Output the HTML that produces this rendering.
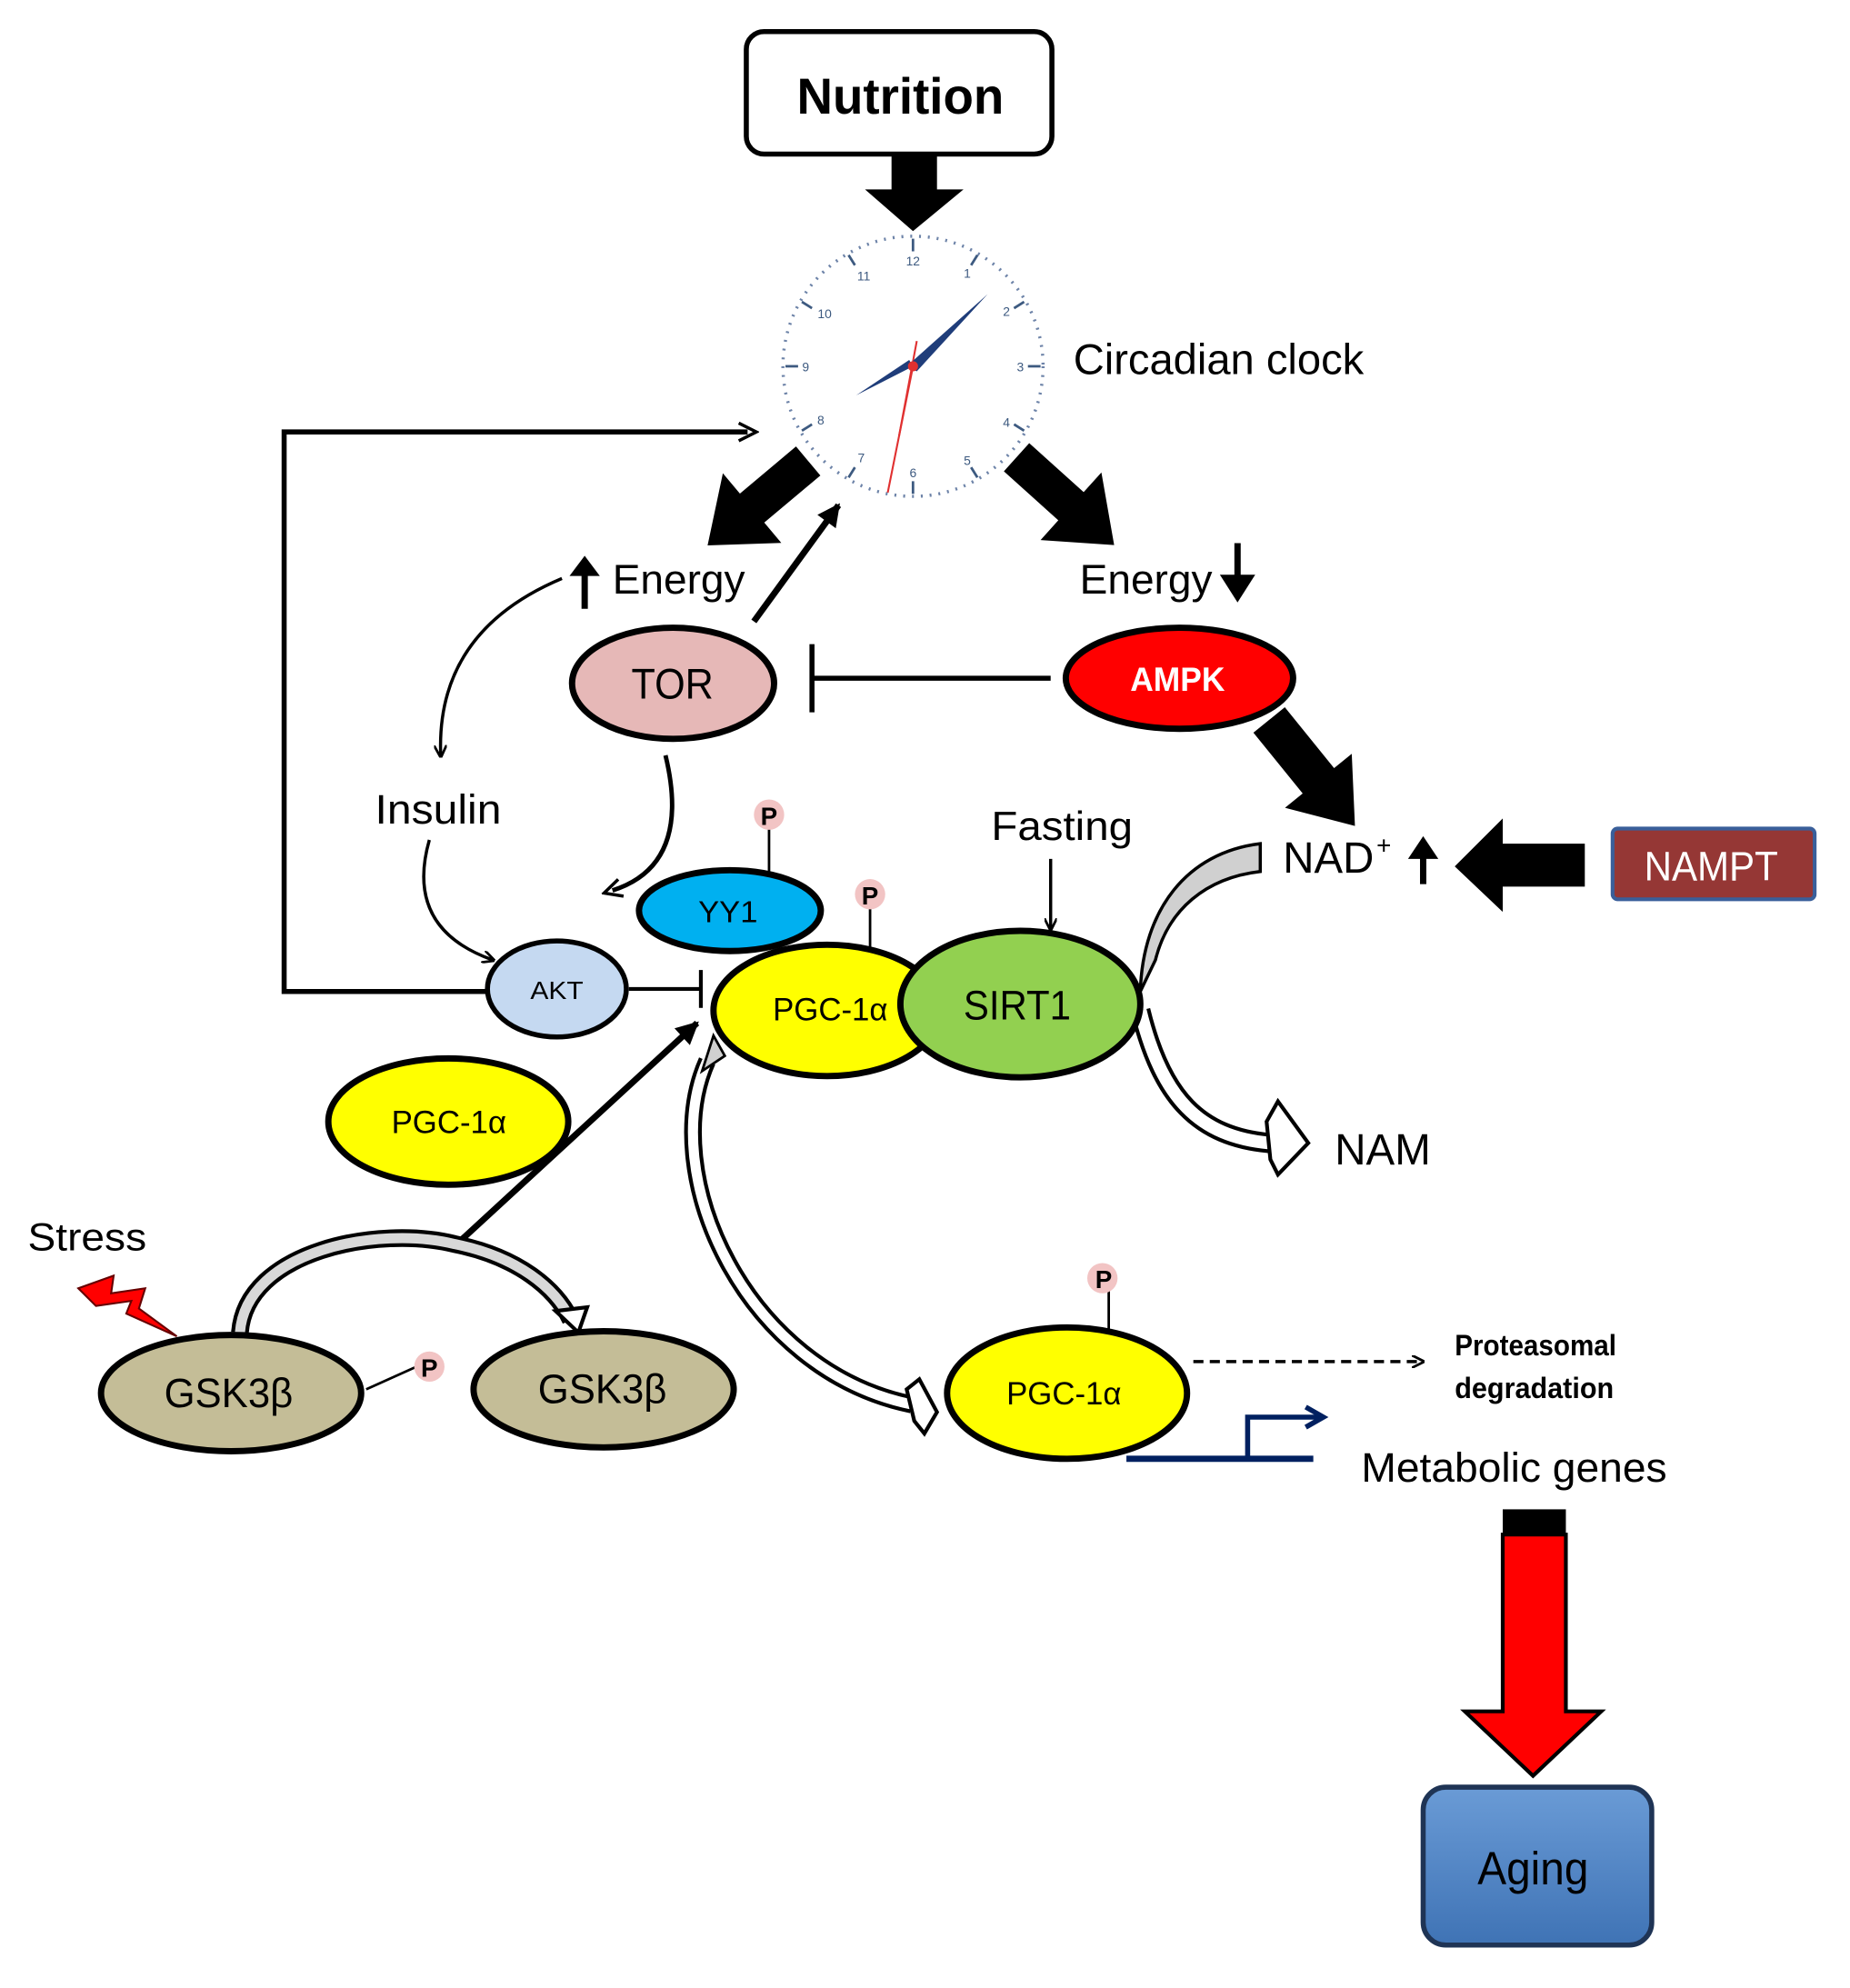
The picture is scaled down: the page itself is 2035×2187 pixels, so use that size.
<!DOCTYPE html>
<html><head><meta charset="utf-8"><style>
html,body{margin:0;padding:0;background:#fff;}
svg{display:block;}
text{font-family:"Liberation Sans Narrow","Liberation Sans",sans-serif;}
</style></head><body>
<svg width="2035" height="2187" viewBox="0 0 1465 1574" preserveAspectRatio="none" xmlns="http://www.w3.org/2000/svg">
<defs>
<marker id="ah" markerWidth="10" markerHeight="10" refX="8" refY="5" orient="auto" markerUnits="userSpaceOnUse" viewBox="0 0 10 10"><path d="M0,0 L10,5 L0,10" fill="none" stroke="#000" stroke-width="2"/></marker>
<marker id="ahs" markerWidth="18" markerHeight="18" refX="9" refY="9" orient="auto" markerUnits="userSpaceOnUse" viewBox="0 0 18 18"><path d="M2,2 L16,9 L2,16" fill="none" stroke="#000" stroke-width="2.5"/></marker>
<marker id="ahb" markerWidth="22" markerHeight="22" refX="18" refY="11" orient="auto" markerUnits="userSpaceOnUse" viewBox="0 0 22 22"><path d="M2,2 L20,11 L2,20 Z" fill="#000"/></marker>
<marker id="ahn" markerWidth="20" markerHeight="20" refX="14" refY="10" orient="auto" markerUnits="userSpaceOnUse" viewBox="0 0 20 20"><path d="M2,2 L16,10 L2,18" fill="none" stroke="#002060" stroke-width="4"/></marker>
<linearGradient id="ag" x1="0" y1="0" x2="0" y2="1"><stop offset="0" stop-color="#6a9bd6"/><stop offset="1" stop-color="#3f73b5"/></linearGradient>
</defs>

<rect x="591" y="25" width="242" height="97" rx="14" fill="#fff" stroke="#000" stroke-width="4"/>
<text x="631" y="90" font-size="40" font-weight="bold" textLength="164" lengthAdjust="spacingAndGlyphs">Nutrition</text>
<polygon points="706,122 742,122 742,150 763,150 723,183 685,150 706,150" fill="#000"/>

<g>
<circle cx="723" cy="290" r="103" fill="#fff" stroke="#6d83a8" stroke-width="2.5" stroke-dasharray="1.5 5.5"/>
<g stroke="#3d5a80" stroke-width="2">
<line x1="723" y1="189" x2="723" y2="199"/><line x1="723" y1="381" x2="723" y2="391"/>
<line x1="622" y1="290" x2="632" y2="290"/><line x1="814" y1="290" x2="824" y2="290"/>
<line x1="774" y1="202" x2="769" y2="210"/><line x1="811" y1="239" x2="803" y2="244"/>
<line x1="811" y1="341" x2="803" y2="336"/><line x1="774" y1="378" x2="769" y2="370"/>
<line x1="672" y1="378" x2="677" y2="370"/><line x1="635" y1="341" x2="643" y2="336"/>
<line x1="635" y1="239" x2="643" y2="244"/><line x1="672" y1="202" x2="677" y2="210"/>
</g>
<g font-size="10" fill="#3d5a80" text-anchor="middle">
<text x="723" y="210">12</text><text x="766" y="220">1</text><text x="797" y="250">2</text><text x="808" y="294">3</text>
<text x="797" y="338">4</text><text x="766" y="368">5</text><text x="723" y="378">6</text><text x="682" y="366">7</text>
<text x="650" y="336">8</text><text x="638" y="294">9</text><text x="653" y="252">10</text><text x="684" y="222">11</text>
</g>
<line x1="723" y1="290" x2="703" y2="390" stroke="#e03030" stroke-width="1.5"/>
<line x1="712" y1="345" x2="726" y2="270" stroke="#e03030" stroke-width="1.5"/>
<polygon points="723,290 678,313 720,285" fill="#1f3d7a"/>
<polygon points="718,290 782,233 726,294" fill="#1f3d7a"/>
<circle cx="723" cy="290" r="4" fill="#e03030"/>
</g>
<text x="850" y="296" font-size="34" textLength="230" lengthAdjust="spacingAndGlyphs">Circadian clock</text>

<polyline points="390,785 225,785 225,342 592,342" fill="none" stroke="#000" stroke-width="4" marker-end="url(#ahs)"/>

<g transform="translate(640,365) rotate(140)"><polygon points="0,-15 58,-15 58,-36 104,0 58,36 58,15 0,15" fill="#000"/></g>
<g transform="translate(805,362) rotate(42)"><polygon points="0,-15 58,-15 58,-36 104,0 58,36 58,15 0,15" fill="#000"/></g>

<line x1="597" y1="492" x2="664" y2="400" stroke="#000" stroke-width="5" marker-end="url(#ahb)"/>

<line x1="463" y1="482" x2="463" y2="448" stroke="#000" stroke-width="5"/>
<polygon points="451,456 463,440 475,456" fill="#000"/>
<text x="485" y="470" font-size="33" textLength="105" lengthAdjust="spacingAndGlyphs">Energy</text>
<text x="855" y="470" font-size="33" textLength="105" lengthAdjust="spacingAndGlyphs">Energy</text>
<line x1="980" y1="430" x2="980" y2="468" stroke="#000" stroke-width="5"/>
<polygon points="966,455 980,477 994,455" fill="#000"/>

<ellipse cx="533" cy="541" rx="80" ry="44" fill="#e6b8b7" stroke="#000" stroke-width="5"/>
<text x="500" y="553" font-size="34" textLength="65" lengthAdjust="spacingAndGlyphs">TOR</text>
<line x1="832" y1="537" x2="643" y2="537" stroke="#000" stroke-width="4"/>
<line x1="643" y1="510" x2="643" y2="564" stroke="#000" stroke-width="4"/>

<ellipse cx="934" cy="537" rx="90" ry="40" fill="#ff0000" stroke="#000" stroke-width="5"/>
<text x="895" y="547" font-size="27" font-weight="bold" fill="#fff" textLength="75" lengthAdjust="spacingAndGlyphs">AMPK</text>
<g transform="translate(1005,570) rotate(51)"><polygon points="0,-16 62,-16 62,-34 108,0 62,34 62,16 0,16" fill="#000"/></g>

<text x="1016" y="691" font-size="35" textLength="72" lengthAdjust="spacingAndGlyphs">NAD</text><text x="1090" y="676" font-size="20">+</text>
<line x1="1127" y1="700" x2="1127" y2="672" stroke="#000" stroke-width="5"/>
<polygon points="1115,680 1127,662 1139,680" fill="#000"/>
<polygon points="1255,668 1190,668 1190,648 1152,686 1190,722 1190,702 1255,702" fill="#000"/>
<rect x="1277" y="656" width="160" height="56" rx="4" fill="#953735" stroke="#3a5f9a" stroke-width="3"/>
<text x="1302" y="697" font-size="33" fill="#fff" textLength="106" lengthAdjust="spacingAndGlyphs">NAMPT</text>

<path d="M445,458 Q345,500 349,598" fill="none" stroke="#000" stroke-width="2.5" marker-end="url(#ah)"/>
<text x="297" y="652" font-size="33" textLength="100" lengthAdjust="spacingAndGlyphs">Insulin</text>
<path d="M340,665 Q320,735 390,760" fill="none" stroke="#000" stroke-width="2.5" marker-end="url(#ah)"/>
<path d="M527,598 Q548,685 485,705" fill="none" stroke="#000" stroke-width="3.5" marker-end="url(#ahs)"/>

<text x="785" y="665" font-size="32" textLength="112" lengthAdjust="spacingAndGlyphs">Fasting</text>
<line x1="832" y1="680" x2="832" y2="735" stroke="#000" stroke-width="2.5" marker-end="url(#ah)"/>

<path d="M998,668 C940,675 905,720 903,785 L915,760 C925,720 955,695 998,690 Z" fill="#d0d0d0" stroke="#000" stroke-width="2.5"/>

<path d="M903,800 C920,870 950,900 1005,905" fill="none" stroke="#000" stroke-width="16"/>
<path d="M903,800 C920,870 950,900 1005,905" fill="none" stroke="#fff" stroke-width="10"/>
<polygon points="1003,888 1012,872 1036,905 1012,930 1006,918" fill="#fff" stroke="#000" stroke-width="3"/>
<text x="1057" y="922" font-size="35" textLength="76" lengthAdjust="spacingAndGlyphs">NAM</text>

<line x1="609" y1="655" x2="609" y2="690" stroke="#000" stroke-width="2"/>
<circle cx="609" cy="645" r="12" fill="#f2c4c4"/><text x="609" y="653" font-size="20" font-weight="bold" text-anchor="middle">P</text>

<ellipse cx="578" cy="721" rx="72" ry="32" fill="#00b0f0" stroke="#000" stroke-width="5"/>
<text x="553" y="730" font-size="24" textLength="47" lengthAdjust="spacingAndGlyphs">YY1</text>
<line x1="689" y1="715" x2="689" y2="752" stroke="#000" stroke-width="2"/>
<circle cx="689" cy="708" r="12" fill="#f2c4c4"/><text x="689" y="716" font-size="20" font-weight="bold" text-anchor="middle">P</text>

<ellipse cx="441" cy="783" rx="55" ry="38" fill="#c5d9f1" stroke="#000" stroke-width="4"/>
<text x="420" y="791" font-size="20" textLength="42" lengthAdjust="spacingAndGlyphs">AKT</text>
<line x1="498" y1="783" x2="555" y2="783" stroke="#000" stroke-width="3"/>
<line x1="555" y1="768" x2="555" y2="798" stroke="#000" stroke-width="3"/>

<ellipse cx="655" cy="800" rx="90" ry="52" fill="#ffff00" stroke="#000" stroke-width="5"/>
<ellipse cx="808" cy="795" rx="95" ry="58" fill="#92d050" stroke="#000" stroke-width="5"/>
<text x="612" y="808" font-size="25" textLength="91" lengthAdjust="spacingAndGlyphs">PGC-1α</text>
<text x="763" y="807" font-size="33" textLength="85" lengthAdjust="spacingAndGlyphs">SIRT1</text>

<ellipse cx="355" cy="888" rx="95" ry="50" fill="#ffff00" stroke="#000" stroke-width="5"/>
<text x="310" y="897" font-size="25" textLength="91" lengthAdjust="spacingAndGlyphs">PGC-1α</text>

<line x1="365" y1="982" x2="552" y2="810" stroke="#000" stroke-width="5" marker-end="url(#ahb)"/>

<path d="M560,840 C520,930 590,1085 722,1112" fill="none" stroke="#000" stroke-width="14"/>
<path d="M560,840 C520,930 590,1085 722,1112" fill="none" stroke="#fff" stroke-width="8"/>
<polygon points="556,848 574,836 565,820" fill="#d0d0d0" stroke="#000" stroke-width="2"/>
<polygon points="718,1100 728,1092 742,1118 732,1135 724,1125" fill="#fff" stroke="#000" stroke-width="3"/>

<text x="22" y="990" font-size="31" textLength="94" lengthAdjust="spacingAndGlyphs">Stress</text>
<polygon points="62,1020 90,1010 88,1024 115,1020 110,1036 140,1058 100,1040 104,1030 76,1034" fill="#ff0000" stroke="#600" stroke-width="1.5"/>

<path d="M190,1055 C195,990 300,970 360,985 C410,995 440,1020 452,1045" fill="none" stroke="#000" stroke-width="14"/>
<path d="M190,1055 C195,990 300,970 360,985 C410,995 440,1020 452,1045" fill="none" stroke="#d8d8d8" stroke-width="8"/>
<polygon points="440,1038 465,1035 458,1055" fill="#fff" stroke="#000" stroke-width="3"/>

<ellipse cx="183" cy="1103" rx="103" ry="46" fill="#c4bd97" stroke="#000" stroke-width="5"/>
<text x="130" y="1114" font-size="33" textLength="102" lengthAdjust="spacingAndGlyphs">GSK3β</text>
<line x1="290" y1="1100" x2="330" y2="1082" stroke="#000" stroke-width="2"/>
<circle cx="340" cy="1082" r="12" fill="#f2c4c4"/><text x="340" y="1090" font-size="20" font-weight="bold" text-anchor="middle">P</text>
<ellipse cx="478" cy="1100" rx="103" ry="46" fill="#c4bd97" stroke="#000" stroke-width="5"/>
<text x="426" y="1111" font-size="33" textLength="102" lengthAdjust="spacingAndGlyphs">GSK3β</text>

<line x1="878" y1="1020" x2="878" y2="1052" stroke="#000" stroke-width="2"/>
<circle cx="873" cy="1012" r="12" fill="#f2c4c4"/><text x="874" y="1020" font-size="20" font-weight="bold" text-anchor="middle">P</text>
<ellipse cx="845" cy="1103" rx="95" ry="52" fill="#ffff00" stroke="#000" stroke-width="5"/>
<text x="797" y="1112" font-size="25" textLength="91" lengthAdjust="spacingAndGlyphs">PGC-1α</text>
<line x1="945" y1="1078" x2="1126" y2="1078" stroke="#000" stroke-width="2.5" stroke-dasharray="8 5" marker-end="url(#ah)"/>
<text x="1152" y="1073" font-size="23" font-weight="bold" textLength="128" lengthAdjust="spacingAndGlyphs">Proteasomal</text>
<text x="1152" y="1107" font-size="23" font-weight="bold" textLength="126" lengthAdjust="spacingAndGlyphs">degradation</text>
<polyline points="892,1155 1040,1155" fill="none" stroke="#002060" stroke-width="5"/>
<polyline points="988,1155 988,1122 1046,1122" fill="none" stroke="#002060" stroke-width="4" marker-end="url(#ahn)"/>
<text x="1078" y="1173" font-size="33" textLength="242" lengthAdjust="spacingAndGlyphs">Metabolic genes</text>

<rect x="1190" y="1195" width="50" height="20" fill="#000"/>
<polygon points="1190,1215 1240,1215 1240,1355 1268,1355 1214,1406 1160,1355 1190,1355" fill="#ff0000" stroke="#000" stroke-width="3"/>

<rect x="1127" y="1415" width="181" height="125" rx="18" fill="url(#ag)" stroke="#1f3455" stroke-width="4"/>
<text x="1170" y="1492" font-size="37" textLength="88" lengthAdjust="spacingAndGlyphs">Aging</text>
</svg>
</body></html>
